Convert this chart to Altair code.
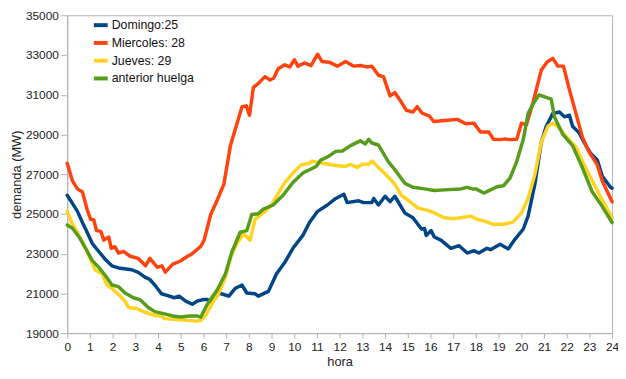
import altair as alt
import pandas as pd

series_names = ["Domingo:25", "Miercoles: 28", "Jueves: 29", "anterior huelga"]
series_colors = ["#004586", "#ff420e", "#ffd320", "#579d1c"]

dom_h = [0, 0.23, 0.45, 0.67, 0.81, 1.1, 1.39, 1.68, 1.97, 2.26, 2.84, 3.13, 3.42, 3.64, 3.86,
         4.15, 4.43, 4.72, 4.93, 5.22, 5.51, 5.72, 6.0, 6.17, 6.39, 6.68, 7.12, 7.41, 7.7, 7.91,
         8.27, 8.42, 8.86, 9.22, 9.58, 9.94, 10.38, 10.67, 11.03, 11.46, 11.83, 12.19, 12.33, 12.84, 13.06,
         13.42, 13.5, 13.71, 14.0, 14.22, 14.43, 14.87, 15.23, 15.6, 15.74, 15.81, 16.03, 16.17, 16.46, 16.9,
         17.26, 17.62, 17.91, 18.13, 18.49, 18.64, 19.07, 19.43, 19.72, 20.09, 20.3, 20.6, 20.88, 21.1, 21.39,
         21.68, 21.9, 22.12, 22.26, 22.55, 22.77, 23.06, 23.35, 23.57, 23.93, 24]
dom_v = [25940, 25530, 25130, 24570, 24240, 23520, 23110, 22710, 22390, 22280, 22190, 22060, 21820, 21700, 21420,
         20980, 20890, 20780, 20860, 20610, 20450, 20610, 20690, 20690, 20550, 21020, 20860, 21260, 21420, 21020,
         20980, 20860, 21100, 21990, 22550, 23270, 23920, 24570, 25130, 25450, 25780, 25990, 25570, 25660, 25570,
         25570, 25780, 25450, 25890, 25620, 25890, 25050, 24810, 24240, 24270, 23920, 24160, 23840, 23680, 23270,
         23400, 23030, 23150, 23030, 23270, 23200, 23470, 23240, 23720, 24240, 24890, 26500, 28600, 29410, 30050,
         30130, 29890, 29970, 29410, 29080, 28600, 28040, 27710, 26900, 26340, 26300]

mie_h = [0, 0.23, 0.45, 0.67, 0.88, 1.03, 1.17, 1.29, 1.48, 1.61, 1.83, 1.94, 2.1, 2.26, 2.48,
         2.77, 3.13, 3.45, 3.64, 3.97, 4.17, 4.32, 4.65, 4.99, 5.3, 5.45, 5.88, 6.03, 6.32, 6.61,
         6.9, 7.19, 7.48, 7.7, 7.89, 8.03, 8.2, 8.41, 8.71, 8.93, 9.1, 9.29, 9.58, 9.8, 10.01,
         10.16, 10.45, 10.74, 11.03, 11.22, 11.54, 11.9, 12.26, 12.62, 12.93, 13.2, 13.42, 13.71, 13.93, 14.22,
         14.43, 14.72, 14.94, 15.23, 15.42, 15.62, 15.96, 16.14, 16.62, 17.19, 17.55, 17.91, 18.2, 18.57, 18.78,
         19.07, 19.28, 19.5, 19.8, 20.01, 20.23, 20.52, 20.88, 21.13, 21.39, 21.61, 21.86, 22.12, 22.41, 22.7,
         22.99, 23.35, 23.57, 24]
mie_v = [27550, 26660, 26260, 26100, 25210, 24730, 24700, 24160, 24120, 23680, 23840, 23270, 23350, 23030, 23110,
         22870, 22760, 22390, 22760, 22310, 22390, 22070, 22470, 22630, 22870, 22950, 23360, 23680, 24970, 25700,
         26500, 28440, 29570, 30400, 30440, 29970, 31370, 31560, 31910, 31740, 31840, 32310, 32510, 32400, 32760,
         32440, 32600, 32470, 33040, 32670, 32640, 32440, 32670, 32440, 32470, 32400, 32440, 31980, 31910, 30940,
         31110, 30620, 30210, 30130, 30400, 30080, 29920, 29650, 29700, 29760, 29540, 29570, 29120, 29120, 28760,
         28740, 28780, 28740, 28760, 29570, 29490, 30620, 32230, 32640, 32830, 32440, 32440, 31260, 30050, 28840,
         28110, 27470, 26660, 25610]

jue_h = [0, 0.23, 0.45, 0.74, 1.03, 1.25, 1.54, 1.75, 1.97, 2.26, 2.55, 2.7, 3.06, 3.42, 3.86,
         4.15, 4.29, 4.87, 5.3, 5.67, 5.88, 6.1, 6.32, 6.68, 6.97, 7.19, 7.48, 7.77, 8.06, 8.27,
         8.64, 9.0, 9.29, 9.58, 9.94, 10.3, 10.67, 10.78, 11.25, 11.83, 12.26, 12.46, 12.77, 12.99, 13.28,
         13.42, 13.71, 14.0, 14.43, 14.72, 15.09, 15.45, 15.88, 16.17, 16.61, 17.04, 17.77, 18.06, 18.35, 18.78,
         19.22, 19.65, 20.01, 20.3, 20.6, 20.88, 21.17, 21.39, 21.68, 21.97, 22.41, 22.77, 23.13, 23.49, 24]
jue_v = [25130, 24480, 24080, 23440, 22710, 22150, 21990, 21420, 21260, 20940, 20610, 20290, 20240, 20050, 19890,
         19860, 19730, 19680, 19640, 19600, 19640, 19890, 20370, 21020, 21820, 22790, 23520, 24000, 23680, 24730,
         25050, 25450, 26020, 26580, 27060, 27470, 27550, 27660, 27550, 27440, 27390, 27500, 27340, 27500, 27500,
         27660, 27340, 27020, 26500, 25940, 25620, 25290, 25180, 25050, 24810, 24760, 24890, 24730, 24650, 24480,
         24480, 24600, 25050, 25780, 26990, 28600, 29410, 29570, 29330, 28920, 28360, 27470, 26660, 25860, 24810]

ant_h = [0, 0.23, 0.52, 0.81, 1.1, 1.39, 1.68, 1.97, 2.26, 2.55, 2.91, 3.2, 3.57, 3.86, 4.29,
         4.65, 5.01, 5.38, 5.74, 5.88, 6.17, 6.61, 6.97, 7.26, 7.62, 7.91, 8.13, 8.41, 8.64, 9.07,
         9.51, 9.94, 10.38, 10.96, 11.17, 11.54, 11.83, 12.12, 12.48, 12.91, 13.13, 13.28, 13.42, 13.71, 14.14,
         14.43, 14.87, 15.23, 15.74, 16.17, 16.61, 17.33, 17.62, 17.84, 18.0, 18.35, 18.93, 19.22, 19.51, 19.8,
         20.09, 20.3, 20.52, 20.78, 21.03, 21.32, 21.46, 21.83, 22.26, 22.7, 23.13, 23.57, 24]
ant_v = [24440, 24280, 23840, 23270, 22660, 22310, 21900, 21420, 21340, 21020, 20780, 20690, 20290, 20080, 19970,
         19860, 19810, 19860, 19860, 19800, 20450, 21180, 21990, 23110, 24080, 24160, 24970, 25010, 25240, 25450,
         25940, 26580, 27060, 27390, 27710, 27920, 28150, 28170, 28440, 28680, 28520, 28760, 28570, 28470, 27630,
         27230, 26540, 26340, 26260, 26180, 26210, 26260, 26340, 26260, 26260, 26050, 26370, 26420, 26820, 27630,
         28760, 30050, 30540, 30990, 30890, 30780, 29890, 29000, 28440, 27310, 26100, 25370, 24570]

x_ticks = list(range(0, 25))
y_ticks = list(range(19000, 35001, 2000))

rows = []
for name, hs, vs in zip(series_names, [dom_h, mie_h, jue_h, ant_h], [dom_v, mie_v, jue_v, ant_v]):
    assert len(hs) == len(vs), name
    for h, v in zip(hs, vs):
        rows.append({"hora": h, "demanda": v, "serie": name})
df = pd.DataFrame(rows)

FONT = "Liberation Sans"

chart = alt.Chart(df).mark_line(strokeWidth=3.5, strokeJoin="round", strokeCap="round").encode(
    x=alt.X("hora:Q",
            scale=alt.Scale(domain=[0, 24], nice=False, zero=False),
            axis=alt.Axis(values=x_ticks, title="hora", grid=False, tickSize=5, labelPadding=4,
                          labelFontSize=12, labelColor="#222222", titleFontSize=13,
                          titleFontWeight="normal", titleColor="#222222", titleFont=FONT, labelFont=FONT,
                          domainColor="#b3b3b3", tickColor="#b3b3b3", titleY=29, titleBaseline="middle",
                          labelFlush=False)),
    y=alt.Y("demanda:Q",
            scale=alt.Scale(domain=[19000, 35000], nice=False, zero=False),
            axis=alt.Axis(values=y_ticks, format="d", title="demanda (MW)", grid=False, tickSize=7,
                          labelPadding=2, labelFontSize=12, labelColor="#222222", titleFontSize=13,
                          titleFontWeight="normal", titleColor="#222222", titleFont=FONT, labelFont=FONT,
                          domainColor="#b3b3b3", tickColor="#b3b3b3", titleX=-57, titleBaseline="top",
                          labelFlush=False)),
    color=alt.Color("serie:N",
                    scale=alt.Scale(domain=series_names, range=series_colors),
                    legend=alt.Legend(title=None, orient="none", legendX=25, legendY=1,
                                      symbolType="stroke", symbolStrokeWidth=4, symbolSize=196,
                                      labelFontSize=12.5, labelFont=FONT, labelColor="#111111",
                                      rowPadding=1, labelOffset=2, padding=0)),
    order=alt.Order("hora:Q"),
).properties(
    width=552,
    height=322,
    autosize=alt.AutoSizeParams(type="none"),
    padding={"left": 60, "top": 5, "right": 6, "bottom": 36},
).configure_view(
    stroke="#b3b3b3", strokeWidth=1
)

chart.save("out.html", embed_options={"renderer": "svg", "actions": False})
